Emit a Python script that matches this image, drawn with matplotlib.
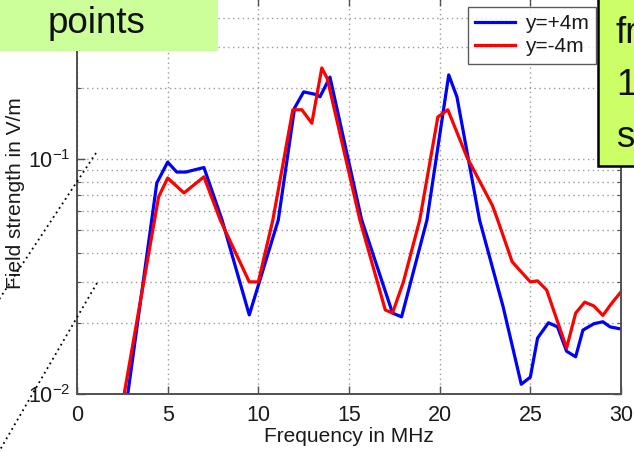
import matplotlib
matplotlib.use("Agg")
import matplotlib.pyplot as plt
from matplotlib.lines import Line2D
from matplotlib.patches import Rectangle
from matplotlib.ticker import NullFormatter, LogLocator, FixedLocator

plt.rcParams['font.family'] = ['Liberation Sans', 'DejaVu Sans']
plt.rcParams['mathtext.fontset'] = 'custom'
plt.rcParams['mathtext.rm'] = 'Liberation Sans'
plt.rcParams['mathtext.default'] = 'regular'

# ---- data ----
freq_pos = [2.5, 2.8, 4.4, 5.0, 5.5, 6.0, 7.0, 8.0, 9.5, 11.1, 12.0, 12.5, 13.2, 13.4, 13.95,
            15.7, 17.4, 17.9, 19.3, 20.5, 20.95, 22.2, 23.5, 24.5, 25.0, 25.4, 26.0, 26.5,
            27.0, 27.5, 27.9, 28.5, 29.0, 29.4, 30.0]
field_pos = [0.0068, 0.010, 0.079, 0.097, 0.088, 0.088, 0.092, 0.055, 0.0217, 0.055, 0.165,
             0.193, 0.188, 0.184, 0.223, 0.055, 0.0221, 0.0213, 0.055, 0.228, 0.184, 0.055,
             0.0235, 0.0110, 0.0118, 0.0173, 0.0201, 0.0193, 0.0152, 0.0144, 0.0187, 0.0199,
             0.0203, 0.0193, 0.0189]

freq_neg = [2.3, 2.6, 4.5, 5.0, 5.9, 7.0, 7.9, 9.5, 10.0, 10.8, 11.9, 12.4, 12.95, 13.5, 13.8,
            15.6, 17.0, 17.4, 18.0, 18.9, 19.9, 20.45, 21.5, 22.9, 23.2, 24.0, 25.0, 25.4,
            25.9, 27.0, 27.5, 28.0, 28.5, 29.0, 29.5, 30.0]
field_neg = [0.0068, 0.010, 0.069, 0.083, 0.0717, 0.084, 0.055, 0.030, 0.030, 0.055, 0.162,
             0.162, 0.142, 0.244, 0.220, 0.055, 0.0228, 0.0221, 0.030, 0.055, 0.151, 0.162,
             0.102, 0.0636, 0.055, 0.0365, 0.030, 0.0303, 0.0277, 0.0157, 0.0221, 0.0246,
             0.0237, 0.0216, 0.0244, 0.0272]

labels = ['y=+4m', 'y=-4m']
xticks = [0, 5, 10, 15, 20, 25, 30]

W, H = 634, 451
fig = plt.figure(figsize=(W / 100, H / 100), dpi=100)
fig.patch.set_facecolor('white')

ax_l, ax_r, ax_b, ax_t = 77, 621, 394, -2
ax = fig.add_axes([ax_l / W, 1 - ax_b / H, (ax_r - ax_l) / W, (ax_b - ax_t) / H])
ax.plot(freq_pos, field_pos, color='#0000ff', lw=2.3, label=labels[0])
ax.plot(freq_neg, field_neg, color='#ff0000', lw=2.3, label=labels[1])
ax.set_yscale('log')
ax.set_xlim(0, 30)
ax.set_ylim(0.01, 10 ** (-2 + (ax_b - ax_t) / 235))
ax.xaxis.set_major_locator(FixedLocator(xticks))
ax.yaxis.set_major_locator(LogLocator(base=10))
ax.yaxis.set_minor_locator(LogLocator(base=10, subs=range(2, 10)))
ax.yaxis.set_minor_formatter(NullFormatter())

ax.grid(True, which='major', axis='x', linestyle=(0, (1, 2.5)), color='#9a9a9a', lw=1)
ax.grid(True, which='both', axis='y', linestyle=(0, (1, 2.5)), color='#9a9a9a', lw=1)

for s in ax.spines.values():
    s.set_color('#505050')
    s.set_linewidth(1.4)
ax.tick_params(which='both', direction='in', top=True, right=True, colors='#505050',
               labelcolor='#1a1a1a')
ax.tick_params(which='major', length=6, width=1)
ax.tick_params(which='minor', length=3, width=0.8)
ax.tick_params(axis='x', labelsize=15.5, pad=8)
ax.tick_params(axis='y', labelsize=15.5, pad=5)

leg = ax.legend(loc='upper left', bbox_to_anchor=(468 / W, 1 - 7 / H),
                bbox_transform=fig.transFigure, borderaxespad=0, fontsize=15,
                frameon=True, fancybox=False, handlelength=1.9, handletextpad=0.5,
                labelspacing=0.2, borderpad=0.35)
leg.get_frame().set_edgecolor('#333333')
leg.get_frame().set_linewidth(1.0)
for t in leg.get_texts():
    t.set_color('#1a1a1a')

fig.text(349 / W, 1 - 442 / H, 'Frequency in MHz', ha='center', va='baseline',
         fontsize=15, color='#1a1a1a')
fig.text(16 / W, 1 - 193 / H, 'Field strength in V/m', ha='center', va='center',
         rotation=90, fontsize=15, color='#1a1a1a')

# dotted callout lines (slide annotation)
def px(xs, ys):
    return [x / W for x in xs], [1 - y / H for y in ys]

lx, ly = px([96, -10], [153, 153 + 106 * 1.51])
fig.add_artist(Line2D(lx, ly, color='black', lw=1.3, linestyle=(0, (1, 2)), zorder=5))
lx, ly = px([97, -10], [283, 283 + 107 * 1.72])
fig.add_artist(Line2D(lx, ly, color='black', lw=1.3, linestyle=(0, (1, 2)), zorder=5))

# overlay boxes from the slide
fig.add_artist(Rectangle((-5 / W, 1 - 51 / H), 223 / W, 60 / H, transform=fig.transFigure,
                         facecolor='#ccff99', edgecolor='none', zorder=10))
fig.text(97 / W, 1 - 33 / H, 'points', ha='center', va='baseline', fontsize=26.5,
         color='#111111', zorder=11)
fig.add_artist(Rectangle((598 / W, 1 - 166 / H), 60 / W, 175 / H, transform=fig.transFigure,
                         facecolor='#ccff66', edgecolor='black', lw=1.8, zorder=10))
for txt, yb in [('fr', 43), ('1', 95), ('s', 147)]:
    fig.text(616 / W, 1 - yb / H, txt, ha='left', va='baseline', fontsize=26.5,
             color='#111111', zorder=11)

fig.savefig('out.png', dpi=100)
